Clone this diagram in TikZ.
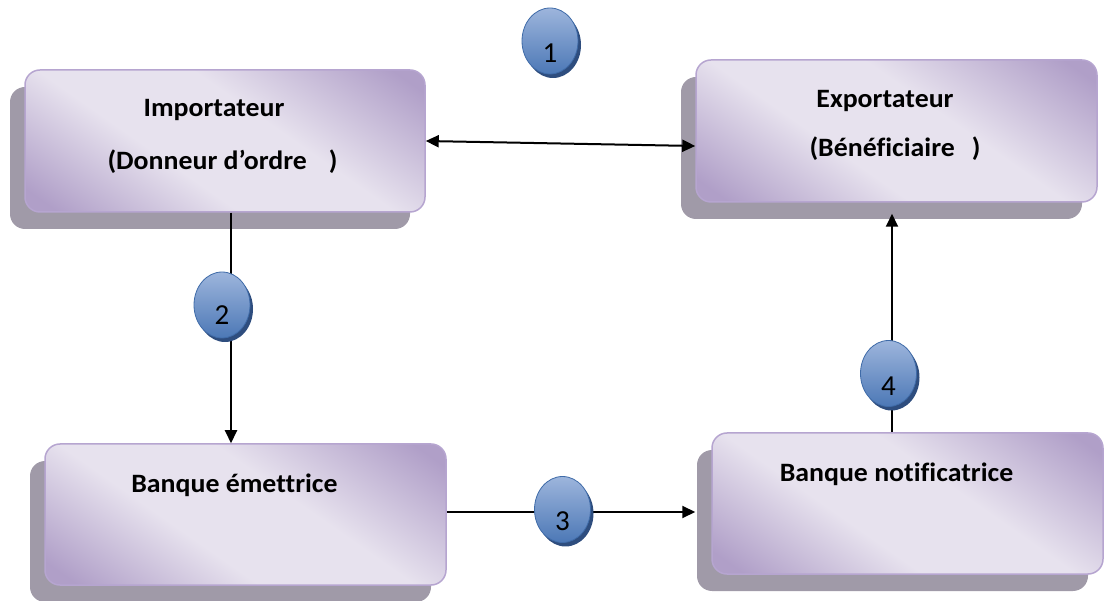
\documentclass[tikz,border=0pt]{standalone}
\usepackage{fontspec}
\setmainfont{Carlito}
\newfontfamily\cardfont[FakeStretch=1.05,Ligatures=NoCommon]{Carlito}
\usetikzlibrary{arrows.meta,shapes.geometric,shadows}

\definecolor{boxdark}{HTML}{B09FC8}
\definecolor{boxlight}{HTML}{E7E2EE}
\definecolor{boxedge}{HTML}{B6A5D0}
\definecolor{boxshade}{HTML}{A09AA8}
\definecolor{badgetop}{HTML}{9DB5DC}
\definecolor{badgebot}{HTML}{4C78B6}
\definecolor{badgeedge}{HTML}{3F6BA8}
\definecolor{badgeshade}{HTML}{2E4D7E}

% lavender fill: dark at two opposite corners, light band across the middle
\pgfdeclareverticalshading{cardshade}{100bp}{
  color(0bp)=(boxdark); color(19bp)=(boxdark); color(40bp)=(boxlight);
  color(58bp)=(boxlight); color(81bp)=(boxdark); color(100bp)=(boxdark)}

\begin{document}
\begin{tikzpicture}[x=1pt,y=-1pt,
  card/.style={rounded corners=15pt, draw=boxedge, line width=1.5pt,
    shading=cardshade, shading angle=-35,
    general shadow={fill=boxshade, shadow xshift=-15pt, shadow yshift=-17pt},
    minimum width=400pt, minimum height=142pt, inner sep=0pt},
  cardtext/.style={font=\cardfont\bfseries\fontsize{26.5}{30}\selectfont,
    anchor=base, inner sep=0pt},
  badge/.style={ellipse, minimum width=56pt, minimum height=66pt, inner sep=0pt,
    draw=badgeedge, line width=0.8pt, top color=badgetop, bottom color=badgebot,
    general shadow={fill=badgeshade, shadow xshift=3pt, shadow yshift=-4pt}},
  num/.style={font=\fontsize{29}{30}\selectfont, inner sep=0pt},
  link/.style={line width=2pt, -{Triangle[length=13pt,width=12pt]}},
  biglink/.style={line width=2pt, {Triangle[length=13pt,width=12pt]}-{Triangle[length=13pt,width=12pt]}}
]
\useasboundingbox (0,0) rectangle (1104,601);

% the four parties
\node[card] (imp) at (225,141) {};
\node[card, minimum width=401pt] (exp) at (896.5,131) {};
\node[card, minimum width=401pt, minimum height=141pt] (em) at (245.5,514.5) {};
\node[card, minimum width=391pt, minimum height=141pt] (not) at (907.5,503.5) {};

\node[cardtext] (impa) at (214,117) {Importateur};
\node[cardtext] (impb) at (222.5,170) {(Donneur d’ordre\hspace{22pt})};
\node[cardtext] (expa) at (885,108) {Exportateur};
\node[cardtext] (expb) at (895,157) {(Bénéficiaire\hspace{17pt})};
\node[cardtext] (ema) at (234.5,493) {Banque émettrice};
\node[cardtext] (nota) at (896.5,482) {Banque notificatrice};

% helper points for the connectors
\coordinate (impdown) at ([xshift=6pt]imp.south);
\coordinate (exptip) at ([yshift=-15pt]exp.west);
\coordinate (emout) at ([yshift=2.5pt]em.east);
\coordinate (notin) at ([xshift=-16pt]not.west);
\coordinate (notup) at ([xshift=-15.5pt]not.north);
\coordinate (expin) at ([yshift=-11pt]exp.south);

% flows between the parties
\draw[biglink] (imp.east) -- (exptip);
\draw[link] (impdown) -- (impdown |- em.north);
\draw[link] (emout) -- (emout -| notin);
\draw[link] (notup) -- (notup |- expin);

% numbered steps
\node[badge] (b1) at (550,41) {};
\node[badge] (b2) at (222,305) {};
\node[badge] (b3) at (562.5,509.5) {};
\node[badge] (b4) at (888.5,373.5) {};
\node[num] (n1) at ([yshift=-12pt]b1.center) {1};
\node[num] (n2) at ([yshift=-10pt]b2.center) {2};
\node[num] (n3) at ([yshift=-12pt]b3.center) {3};
\node[num] (n4) at ([yshift=-13pt]b4.center) {4};
\end{tikzpicture}
\end{document}
